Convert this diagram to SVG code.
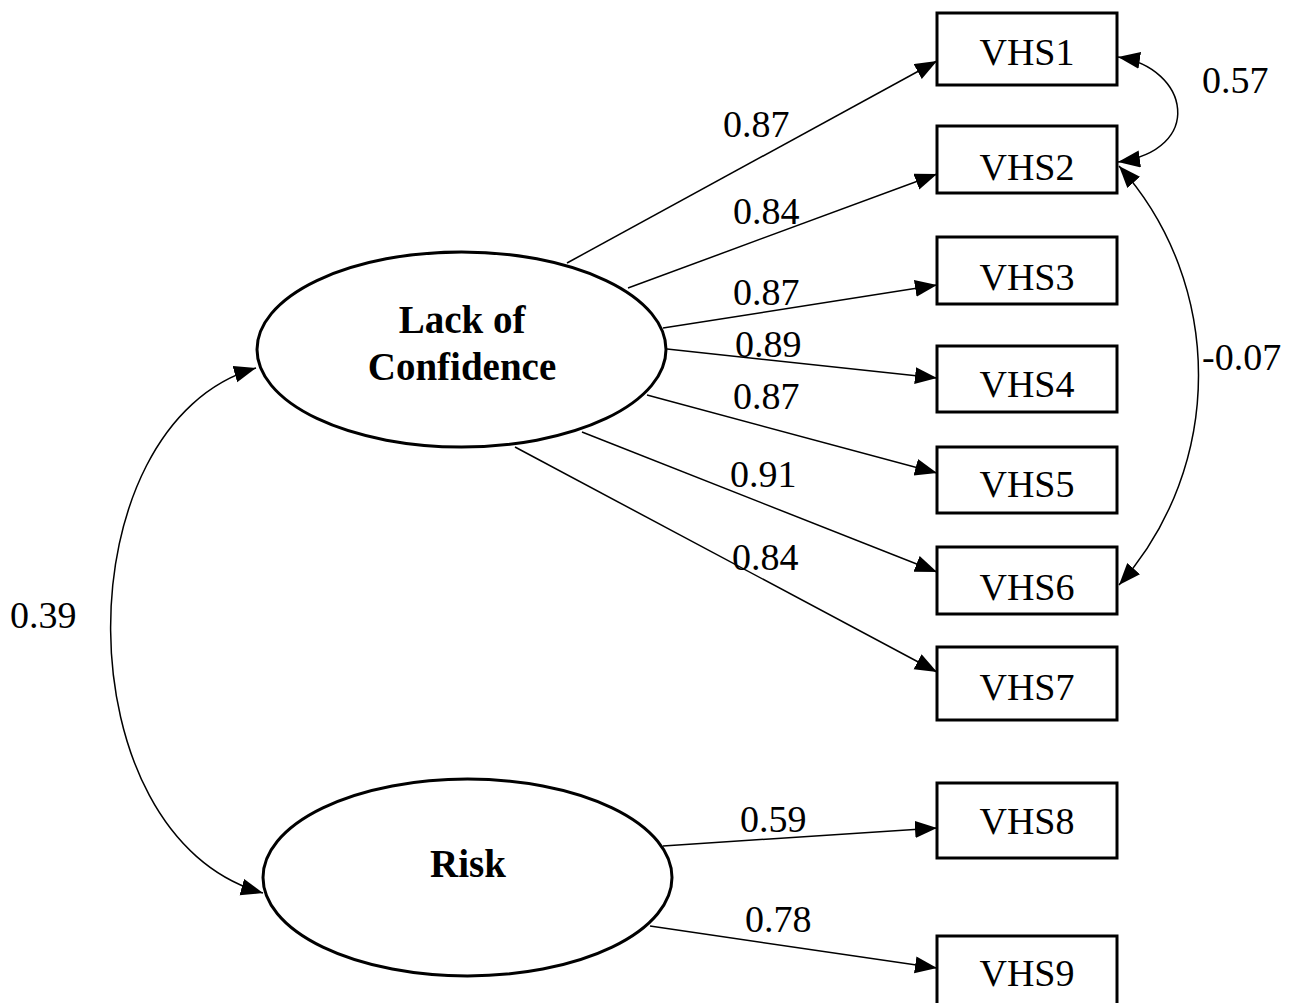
<svg xmlns="http://www.w3.org/2000/svg" width="1295" height="1003" viewBox="0 0 1295 1003">
  <style>
    .box { fill: #fff; stroke: #000; stroke-width: 3; }
    .latent { fill: #fff; stroke: #000; stroke-width: 3; }
    .lbl { font-family: "Liberation Serif", "Times New Roman", serif; font-size: 38px; fill: #000; }
    .name { font-family: "Liberation Serif", "Times New Roman", serif; font-size: 39px; font-weight: bold; fill: #000; text-anchor: middle; }
    .obs { text-anchor: middle; }
    .path { fill: none; stroke: #000; stroke-width: 1.5; marker-end: url(#head); }
    .cov { fill: none; stroke: #000; stroke-width: 1.5; marker-start: url(#head); marker-end: url(#head); }
  </style>
  <defs>
    <marker id="head" markerUnits="userSpaceOnUse" markerWidth="24" markerHeight="18" refX="22" refY="8.5" orient="auto-start-reverse">
      <path d="M0,0 L22,8.5 L0,17 z" fill="#000"/>
    </marker>
  </defs>
  <rect width="1295" height="1003" fill="#fff"/>

  <!-- connectors: loadings and covariances -->
  <g id="connectors">
    <line class="path" x1="567" y1="263" x2="937" y2="61"/>
    <line class="path" x1="628" y1="288" x2="937" y2="174"/>
    <line class="path" x1="663" y1="328" x2="937" y2="285"/>
    <line class="path" x1="667" y1="349" x2="937" y2="378"/>
    <line class="path" x1="647" y1="395" x2="937" y2="473"/>
    <line class="path" x1="582" y1="432" x2="937" y2="572"/>
    <line class="path" x1="515" y1="447" x2="937" y2="672"/>
    <line class="path" x1="663" y1="846" x2="937" y2="828"/>
    <line class="path" x1="650" y1="926" x2="937" y2="968"/>
    <!-- factor covariance -->
    <path class="cov" d="M256,368 C61,424 61,837 263,893"/>
    <!-- residual covariances -->
    <path class="cov" d="M1118,57 C1190,68 1205,150 1118,162"/>
    <path class="cov" d="M1119,166 C1225,284 1225,466 1119,585"/>
  </g>

  <!-- connector labels -->
  <g id="labels" class="lbl">
    <text x="723" y="137">0.87</text>
    <text x="733" y="224">0.84</text>
    <text x="733" y="305">0.87</text>
    <text x="735" y="357">0.89</text>
    <text x="733" y="409">0.87</text>
    <text x="730" y="487">0.91</text>
    <text x="732" y="570">0.84</text>
    <text x="740" y="832">0.59</text>
    <text x="745" y="932">0.78</text>
    <text x="1202" y="93">0.57</text>
    <text x="1202" y="370">-0.07</text>
    <text x="10" y="628">0.39</text>
  </g>

  <!-- latent factors -->
  <g id="lack-of-confidence">
    <ellipse class="latent" cx="461.5" cy="349.5" rx="204.5" ry="97.5"/>
    <text class="name" x="462" y="333">Lack of</text>
    <text class="name" x="462" y="380">Confidence</text>
  </g>
  <g id="risk">
    <ellipse class="latent" cx="467.5" cy="877.5" rx="204.5" ry="98.5"/>
    <text class="name" x="468" y="877">Risk</text>
  </g>

  <!-- observed indicators -->
  <g id="vhs1"><rect class="box" x="937" y="13" width="180" height="72"/><text class="lbl obs" x="1027" y="65">VHS1</text></g>
  <g id="vhs2"><rect class="box" x="937" y="126" width="180" height="67"/><text class="lbl obs" x="1027" y="180">VHS2</text></g>
  <g id="vhs3"><rect class="box" x="937" y="237" width="180" height="67"/><text class="lbl obs" x="1027" y="290">VHS3</text></g>
  <g id="vhs4"><rect class="box" x="937" y="346" width="180" height="66"/><text class="lbl obs" x="1027" y="397">VHS4</text></g>
  <g id="vhs5"><rect class="box" x="937" y="447" width="180" height="66"/><text class="lbl obs" x="1027" y="497">VHS5</text></g>
  <g id="vhs6"><rect class="box" x="937" y="547" width="180" height="67"/><text class="lbl obs" x="1027" y="600">VHS6</text></g>
  <g id="vhs7"><rect class="box" x="937" y="647" width="180" height="73"/><text class="lbl obs" x="1027" y="700">VHS7</text></g>
  <g id="vhs8"><rect class="box" x="937" y="783" width="180" height="75"/><text class="lbl obs" x="1027" y="834">VHS8</text></g>
  <g id="vhs9"><rect class="box" x="937" y="936" width="180" height="80"/><text class="lbl obs" x="1027" y="986">VHS9</text></g>
</svg>
